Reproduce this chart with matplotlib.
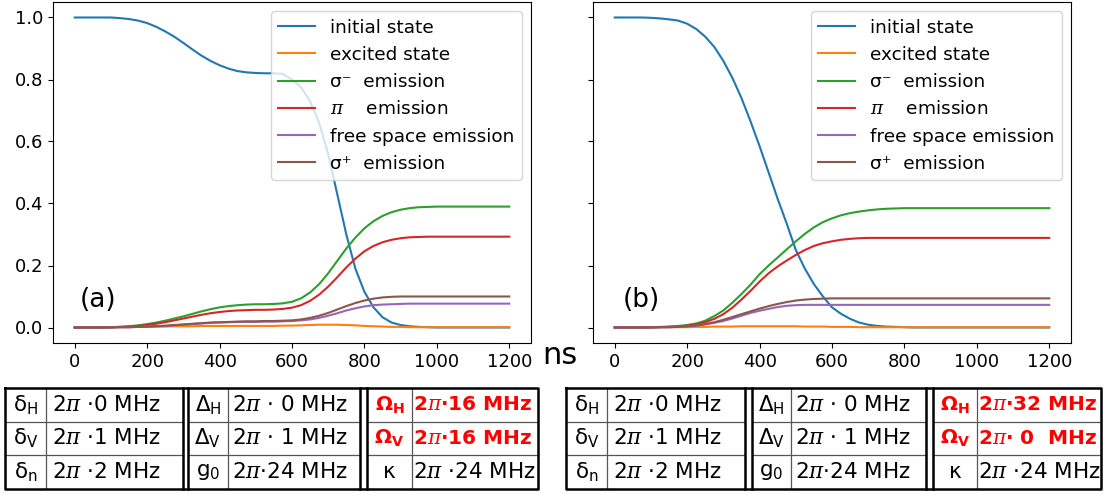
import matplotlib.pyplot as plt
import numpy as np

plt.rcParams["font.family"] = "DejaVu Sans"
plt.rcParams["mathtext.fontset"] = "custom"
plt.rcParams["mathtext.rm"] = "DejaVu Sans"
plt.rcParams["mathtext.it"] = "DejaVu Serif:italic"
plt.rcParams["mathtext.bf"] = "DejaVu Sans:bold"

# time axis (ns), sampled every 25 ns
t_ns = np.arange(0, 1201, 25)

labels = ["initial state", "excited state", "σ⁻  emission", r"$\pi$    emission",
          "free space emission", "σ⁺  emission"]

# panel (a): Omega_H = Omega_V = 2pi*16 MHz
init_a = [1.0, 1.0, 1.0, 1.0, 1.0, 0.998, 0.995, 0.99, 0.982, 0.97, 0.955, 0.938, 0.918, 0.897, 0.877, 0.86,
          0.846, 0.835, 0.827, 0.823, 0.821, 0.82, 0.82, 0.818, 0.80, 0.775, 0.73, 0.66, 0.56, 0.43, 0.30, 0.19,
          0.115, 0.065, 0.033, 0.016, 0.008, 0.004, 0.002, 0.001, 0.0, 0.0, 0.0, 0.0, 0.0, 0.0, 0.0, 0.0, 0.0]
exc_a = [0.0, 0.0, 0.0, 0.0, 0.001, 0.001, 0.001, 0.002, 0.002, 0.003, 0.003, 0.004, 0.004, 0.004, 0.005, 0.005,
         0.005, 0.005, 0.005, 0.005, 0.005, 0.005, 0.005, 0.006, 0.006, 0.007, 0.008, 0.009, 0.009, 0.009, 0.008,
         0.007, 0.005, 0.004, 0.003, 0.002, 0.002, 0.001, 0.001, 0.001, 0.001, 0.001, 0.001, 0.001, 0.001, 0.001,
         0.001, 0.001, 0.001]
sigm_a = [0.0, 0.0, 0.0, 0.0, 0.001, 0.002, 0.004, 0.007, 0.011, 0.016, 0.022, 0.029, 0.036, 0.044, 0.052, 0.059,
          0.065, 0.069, 0.072, 0.074, 0.075, 0.075, 0.076, 0.078, 0.083, 0.094, 0.113, 0.14, 0.175, 0.215, 0.255,
          0.29, 0.32, 0.343, 0.36, 0.372, 0.38, 0.385, 0.388, 0.389, 0.39, 0.39, 0.39, 0.39, 0.39, 0.39, 0.39,
          0.39, 0.39]
pi_a = [0.0, 0.0, 0.0, 0.0, 0.001, 0.002, 0.003, 0.005, 0.008, 0.012, 0.017, 0.023, 0.029, 0.035, 0.041, 0.046,
        0.05, 0.053, 0.055, 0.056, 0.057, 0.057, 0.058, 0.06, 0.064, 0.072, 0.086, 0.106, 0.132, 0.162, 0.194,
        0.222, 0.246, 0.263, 0.275, 0.283, 0.288, 0.291, 0.292, 0.293, 0.293, 0.293, 0.293, 0.293, 0.293, 0.293,
        0.293, 0.293, 0.293]
free_a = [0.0, 0.0, 0.0, 0.0, 0.0, 0.001, 0.001, 0.002, 0.003, 0.004, 0.005, 0.007, 0.009, 0.011, 0.013, 0.015,
          0.016, 0.017, 0.018, 0.018, 0.018, 0.019, 0.019, 0.02, 0.021, 0.023, 0.026, 0.031, 0.038, 0.046, 0.055,
          0.062, 0.068, 0.072, 0.074, 0.075, 0.076, 0.077, 0.077, 0.077, 0.077, 0.077, 0.077, 0.077, 0.077, 0.077,
          0.077, 0.077, 0.077]
sigp_a = [0.0, 0.0, 0.0, 0.0, 0.0, 0.001, 0.001, 0.002, 0.003, 0.004, 0.006, 0.008, 0.01, 0.012, 0.014, 0.016,
          0.017, 0.018, 0.019, 0.02, 0.02, 0.021, 0.021, 0.022, 0.023, 0.026, 0.031, 0.038, 0.047, 0.058, 0.069,
          0.079, 0.087, 0.093, 0.097, 0.099, 0.1, 0.1, 0.1, 0.1, 0.1, 0.1, 0.1, 0.1, 0.1, 0.1, 0.1, 0.1, 0.1]

# panel (b): Omega_H = 2pi*32 MHz, Omega_V = 0
init_b = [1.0, 1.0, 1.0, 1.0, 0.999, 0.997, 0.994, 0.99, 0.98, 0.963, 0.938, 0.905, 0.86, 0.805, 0.74, 0.665,
          0.585, 0.5, 0.415, 0.335, 0.25, 0.19, 0.14, 0.1, 0.065, 0.044, 0.028, 0.016, 0.009, 0.005, 0.003, 0.002,
          0.001, 0.0, 0.0, 0.0, 0.0, 0.0, 0.0, 0.0, 0.0, 0.0, 0.0, 0.0, 0.0, 0.0, 0.0, 0.0, 0.0]
exc_b = [0.0, 0.0, 0.0, 0.0, 0.0, 0.001, 0.001, 0.001, 0.001, 0.002, 0.002, 0.003, 0.003, 0.003, 0.004, 0.004,
         0.004, 0.004, 0.004, 0.004, 0.004, 0.003, 0.003, 0.003, 0.002, 0.002, 0.002, 0.001, 0.001, 0.001, 0.001,
         0.001, 0.001, 0.001, 0.001, 0.001, 0.001, 0.001, 0.001, 0.001, 0.001, 0.001, 0.001, 0.001, 0.001, 0.001,
         0.001, 0.001, 0.001]
sigm_b = [0.0, 0.0, 0.0, 0.0, 0.001, 0.002, 0.003, 0.005, 0.008, 0.013, 0.022, 0.037, 0.055, 0.08, 0.108, 0.138,
          0.172, 0.2, 0.226, 0.252, 0.278, 0.302, 0.323, 0.34, 0.352, 0.362, 0.369, 0.374, 0.378, 0.381, 0.383,
          0.384, 0.385, 0.385, 0.385, 0.385, 0.385, 0.385, 0.385, 0.385, 0.385, 0.385, 0.385, 0.385, 0.385, 0.385,
          0.385, 0.385, 0.385]
pi_b = [0.0, 0.0, 0.0, 0.0, 0.001, 0.001, 0.002, 0.003, 0.006, 0.01, 0.017, 0.028, 0.043, 0.064, 0.09, 0.118,
        0.148, 0.175, 0.197, 0.216, 0.234, 0.25, 0.263, 0.272, 0.278, 0.283, 0.286, 0.288, 0.289, 0.289, 0.289,
        0.289, 0.289, 0.289, 0.289, 0.289, 0.289, 0.289, 0.289, 0.289, 0.289, 0.289, 0.289, 0.289, 0.289, 0.289,
        0.289, 0.289, 0.289]
free_b = [0.0, 0.0, 0.0, 0.0, 0.0, 0.001, 0.001, 0.002, 0.004, 0.006, 0.01, 0.015, 0.021, 0.029, 0.038, 0.047,
          0.054, 0.06, 0.066, 0.07, 0.072, 0.073, 0.073, 0.073, 0.073, 0.073, 0.073, 0.073, 0.073, 0.073, 0.073,
          0.073, 0.073, 0.073, 0.073, 0.073, 0.073, 0.073, 0.073, 0.073, 0.073, 0.073, 0.073, 0.073, 0.073, 0.073,
          0.073, 0.073, 0.073]
sigp_b = [0.0, 0.0, 0.0, 0.0, 0.0, 0.001, 0.001, 0.002, 0.004, 0.007, 0.011, 0.017, 0.025, 0.034, 0.043, 0.052,
          0.061, 0.069, 0.076, 0.082, 0.087, 0.09, 0.092, 0.093, 0.094, 0.094, 0.094, 0.094, 0.094, 0.094, 0.094,
          0.094, 0.094, 0.094, 0.094, 0.094, 0.094, 0.094, 0.094, 0.094, 0.094, 0.094, 0.094, 0.094, 0.094, 0.094,
          0.094, 0.094, 0.094]

# parameter tables
detuning_syms = [r"δ$_\mathrm{H}$", r"δ$_\mathrm{V}$", r"δ$_\mathrm{n}$"]
detuning_vals = [r"2$\pi$ ·0 MHz", r"2$\pi$ ·1 MHz", r"2$\pi$ ·2 MHz"]
cavity_syms = [r"Δ$_\mathrm{H}$", r"Δ$_\mathrm{V}$", r"g$_\mathrm{0}$"]
cavity_vals = [r"2$\pi$ · 0 MHz", r"2$\pi$ · 1 MHz", r"2$\pi$·24 MHz"]
drive_syms = [r"Ω$_\mathbf{H}$", r"Ω$_\mathbf{V}$", "κ"]
drive_vals_a = [r"2$\pi$·16 MHz", r"2$\pi$·16 MHz", r"2$\pi$ ·24 MHz"]
drive_vals_b = [r"2$\pi$·32 MHz", r"2$\pi$· 0  MHz", r"2$\pi$ ·24 MHz"]
highlight = [True, True, False]

W, H = 1105, 496
fig = plt.figure(figsize=(W / 100, H / 100), dpi=100)

ax_a = fig.add_axes([53 / W, 1 - 343 / H, 478 / W, 341 / H])
ax_b = fig.add_axes([593 / W, 1 - 343 / H, 478 / W, 341 / H], sharey=ax_a)

panels = [
    (ax_a, [init_a, exc_a, sigm_a, pi_a, free_a, sigp_a], "(a)", 0.056),
    (ax_b, [init_b, exc_b, sigm_b, pi_b, free_b, sigp_b], "(b)", 0.063),
]
for ax, series, tag, tag_x in panels:
    for ys, lab in zip(series, labels):
        ax.plot(t_ns, ys, label=lab, lw=1.5)
    ax.set_xticks([0, 200, 400, 600, 800, 1000, 1200])
    ax.tick_params(labelsize=13)
    ax.legend(loc="upper right", fontsize=13.3)
    ax.text(tag_x, 0.126, tag, transform=ax.transAxes, fontsize=19, va="center")
ax_b.tick_params(labelleft=False)

fig.text(560 / W, 1 - 355 / H, "ns", fontsize=22, ha="center", va="center")

# tables drawn in pixel coordinates on an overlay axes
tab = fig.add_axes([0, 0, 1, 1])
tab.set_xlim(0, W)
tab.set_ylim(H, 0)
tab.axis("off")

rows = [388, 422, 455, 489]
table_cols = [
    ([5, 46, 183, 188, 228, 360, 367, 412, 538], drive_vals_a),
    ([566, 607, 745, 752, 791, 926, 933, 977, 1101], drive_vals_b),
]
for cols, drive_vals in table_cols:
    x0, x1 = cols[0], cols[-1]
    groups = [(cols[0], cols[1], cols[2]), (cols[3], cols[4], cols[5]), (cols[6], cols[7], cols[8])]
    # thin inner lines
    for g0, gm, g1 in groups:
        for r in rows[1:3]:
            tab.plot([g0, g1], [r, r], color="#555555", lw=0.9)
        tab.plot([gm, gm], [rows[0], rows[-1]], color="#555555", lw=0.9)
    # thick borders and double separators
    tab.plot([x0, x1, x1, x0, x0], [rows[0], rows[0], rows[-1], rows[-1], rows[0]], color="black", lw=1.8)
    for c in cols[2], cols[3], cols[5], cols[6]:
        tab.plot([c, c], [rows[0], rows[-1]], color="black", lw=1.8)

    pads = [6, 4, 1]
    contents = [(detuning_syms, detuning_vals, [False] * 3),
                (cavity_syms, cavity_vals, [False] * 3),
                (drive_syms, drive_vals, highlight)]
    for (g0, gm, g1), pad, (syms, vals, hl) in zip(groups, pads, contents):
        for i in range(3):
            yc = (rows[i] + rows[i + 1]) / 2
            color = "red" if hl[i] else "black"
            weight = "bold" if hl[i] else "normal"
            size = 14.5 if hl[i] else 15.5
            tab.text((g0 + gm) / 2, yc, syms[i], ha="center", va="center", fontsize=size,
                     color=color, fontweight=weight)
            tab.text(gm + pad, yc, vals[i], ha="left", va="center", fontsize=size,
                     color=color, fontweight=weight)

fig.savefig("out.png", dpi=100)
